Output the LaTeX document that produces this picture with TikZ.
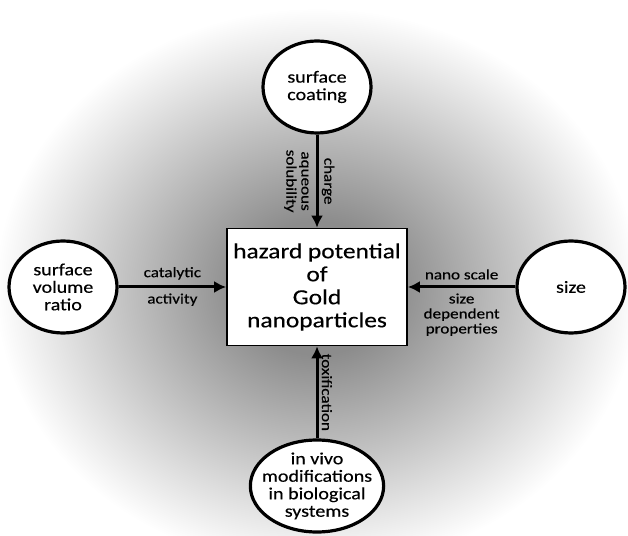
\documentclass[tikz,border=0pt]{standalone}
\usepackage{fontspec}
\setmainfont{Carlito}[FakeStretch=1.18,FakeBold=0.4]
\usetikzlibrary{shapes.geometric,arrows.meta}
\definecolor{glowcore}{gray}{0.55}
\pgfdeclareradialshading{glow}{\pgfpoint{0bp}{0bp}}{color(0bp)=(glowcore); color(6bp)=(glowcore); color(25bp)=(white); color(50bp)=(white)}

\begin{document}
\begin{tikzpicture}[x=1pt,y=1pt]
        \useasboundingbox (0,0) rectangle (628,535);
        \fill[white] (0,0) rectangle (628,535);
        \shade[shading=glow] (317,247) ellipse (322 and 280);

        \node[draw, line width=1.7pt, fill=white, minimum width=180pt, minimum height=117pt,
            align=center, font=\fontsize{21.5}{23}\selectfont] (hazard) at (317,248)
            {hazard potential\\of\\Gold\\nanoparticles};
        \begin{scope}[every node/.style={ellipse, draw, line width=3.2pt, fill=white,
                minimum width=108pt, minimum height=92pt, inner sep=-8pt,
                align=center, font=\fontsize{17}{17.5}\selectfont}]
            \node (coating) at (317,448) {surface\\coating};
            \node (ratio) at (63,248) {surface\\volume\\ratio};
            \node (size) at (571,248) {size};
            \node (vivo) at (317,49) {in vivo\\modifications\\in biological\\systems};
        \end{scope}
        \begin{scope}[line width=3pt, -{Latex[length=12pt,width=12pt]},
                every node/.style={align=center, font=\fontsize{14.5}{15}\selectfont}]
            \draw (coating) -- (hazard)
                node[midway, rotate=-90, anchor=south] {charge}
                node[midway, rotate=-90, anchor=north, inner sep=7pt] {aqueous\\solubility};
            \draw (ratio) -- (hazard)
                node[midway, above, inner sep=6pt] {catalytic}
                node[midway, below, inner sep=5pt] {activity};
            \draw (size) -- (hazard)
                node[midway, above, inner sep=6pt] {nano scale}
                node[midway, below, inner sep=5pt] {size\\dependent\\properties};
            \draw (vivo) -- (hazard)
                node[midway, rotate=-90, anchor=south] {toxification};
        \end{scope}
    \end{tikzpicture}
\end{document}
